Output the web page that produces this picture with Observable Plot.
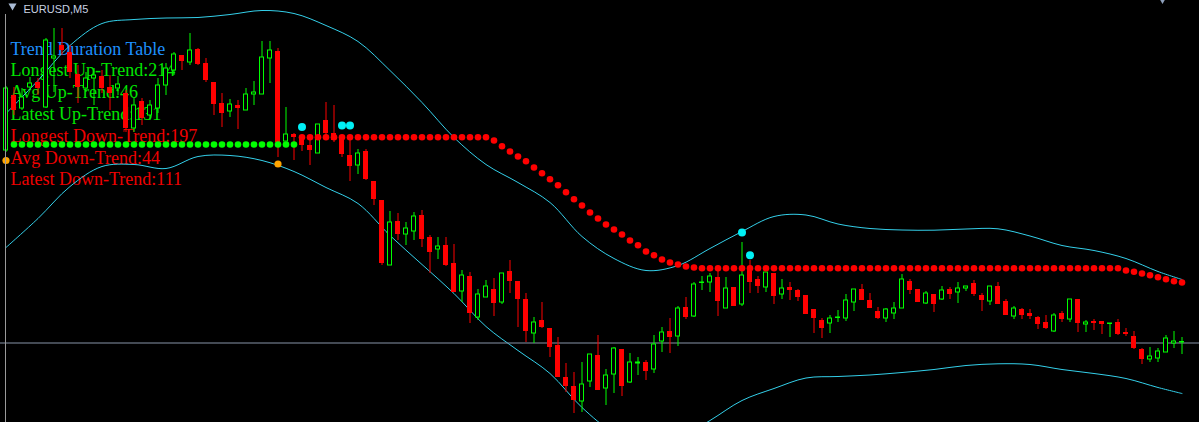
<!DOCTYPE html>
<html>
<head>
<meta charset="utf-8">
<script src="https://cdn.jsdelivr.net/npm/d3@7"></script>
<script src="https://cdn.jsdelivr.net/npm/@observablehq/plot@0.6"></script>
<style>
  html, body { margin: 0; padding: 0; background: #000; overflow: hidden; }
  #wrap { position: relative; width: 1199px; height: 422px; }
  #edge { position: absolute; left: 5px; top: 14px; width: 1px; height: 408px; background: #9a9a9a; }
</style>
</head>
<body>
<div id="wrap"><div id="chart"></div><div id="edge"></div></div>
<script>
// Levels are in points below the window's top reference price (axis reversed).
// Candles: index 0..147 (M5 bars)
const candleOpen = [
  150,95,108,87,82,107,58,45,52,74,
  88,78,76,87,88,93,128,101,115,108,
  85,70,55,62,49,63,82,103,111,105,
  110,94,94,58,51,141,134,137,145,153,
  120,133,137,155,165,151,181,200,265,221,
  234,231,215,237,249,245,263,291,276,317,
  297,289,302,271,281,299,333,320,328,345,
  377,386,401,381,355,388,374,349,382,363,
  362,369,341,331,336,307,316,282.5,282,277,
  308,287,304,269,279,287,273,294,287,290,
  295,309,320,323,317.5,318,302,289,300,311,
  318,313,308,281,289,303,294,299,289,292,
  288,283,295,301,286,301,316,309,313,317,
  322,331,313,319,299,324,321,321,323.5,322,
  332,336,349,359,358,352,343,342
];
const candleHigh = [
  86,87,88,77,78,38,28,28,45,65,
  72,68,70,75,76,90,98,98,100,78,
  63,52,55,33,48,58,82,93,99,100,
  88,81,41,41,48,107,133,136,140,124,
  102,105,137,139,149,149,181,200,211,213,
  222,212,210,235,237,237,244,270,272,289,
  280,278,273,260,281,293,317,302,328,337,
  363,372,362,354,335,369,347,349,353,357,
  360,335,327,318,306,297,282,276,273,270,
  277,287,242,260,276,272,273,279,282,289,
  295,309,318,315,310,294,289,284,293,307,
  308,302,274,279,289,291,294,286,287,282,
  286,280,293,286,282,299,306,308,309,316,
  315,313,311,299,299,320,319,321,323,319,
  328,331,348,347,348,335,331,337
];
const candleLow = [
  152,115,110,90,95,108,92,55,78,103,
  92,105,93,110,95,132,132,125,120,113,
  95,75,70,65,65,82,115,127,117,129,
  110,105,94,83,157,141,160,151,165,153,
  140,142,157,181,174,180,205,265,265,240,
  245,240,247,273,259,266,292,302,323,320,
  297,316,304,293,327,342,343,328,357,377,
  392,413,412,387,390,405,393,396,383,375,
  380,373,352,353,346,319,317,290,292,316,
  308,306,306,293,293,292,304,299,300,301,
  314,333,338,333,322,321,311,300,308,319,
  322,319,308,294,302,304,312,300,299,303,
  291,296,311,305,304,315,319,319,319,329,
  329,332,322,322,332,332,330,334,337,335,
  336,349,364,362,362,352,348,354
];
const candleClose = [
  88,110,97,83,88,40,56,50,72,87,
  78,75,88,93,84,128,105,118,105,85,
  68,54,61,50,64,80,104,113,104,108,
  94,92,57,50,142,134,137,145,150,124,
  133,140,154,166,153,179,199,263,222,234,
  228,216,239,252,246,265,292,275,313,294,
  286,303,273,281,299,331,322,327,347,377,
  386,400,384,354,390,375,348,386,362,362,
  371,344,332,337,308,317,284,282,276,301,
  288,306,275,282,286,272,296,288,290,297,
  314,318,328,318,317,300,289,300,308,318,
  309,308,279,290,302,293,304,290,294,288,
  286,294,300,286,304,315,308,315,316,324,
  328,315,319,299,323,322,323,324,323,334,
  334,348,359,356,351,338,341,341.5
];

// Bollinger-style envelope, read every 4 bars
const bandIndex = [0,4,8,12,16,20,24,28,32,36,40,44,48,52,56,60,64,68,72,76,
                   80,84,88,92,96,100,104,108,112,116,120,124,128,132,136,140,144,147];
const upperBand = [113,80,45,23,19,17.5,17,14,10,13,25,41,70,102,137,164,182,202,236,258,
                   270,265,248,231,216,214.5,223.5,228,229.5,229.7,228.5,228.3,235.5,245,250,258,271,279];
const lowerBand = [247,218,186,166,164,168,156,155,160,171,187,203,235,264,293,326,350,373,407,432,
                   442,438,420,400,388,377.5,376,374.5,372,369,365,363.3,364,369,373,378,387,393];

// Trend-line dots
const upTrendStart = 1;
const upTrendDots = [
  144,144,144,144,144,144,144,144,144,144,144,144,144,144,144,144,144,144,
  144,144,144,144,144,144,144,144,144,144,144,144,144,144,144,144,144,144
];
const downTrendStart = 37;
const downTrendDots = [
  136.7,136.7,136.7,136.7,136.7,136.7,136.7,136.7,136.7,136.7,136.7,136.7,
  136.7,136.7,136.7,136.7,136.7,136.7,136.7,136.7,136.7,136.7,136.7,136.7,
  140,145.7,151,156,160.7,167,172.7,178.7,184.7,191.7,198.7,205,212,218,224,229,
  234,240,244.7,251,254.7,259,262,264,266,267,
  267.7,267.7,267.7,267.7,267.7,267.7,267.7,267.7,267.7,267.7,267.7,267.7,267.7,
  267.7,267.7,267.7,267.7,267.7,267.7,267.7,267.7,267.7,267.7,267.7,267.7,267.7,
  267.7,267.7,267.7,267.7,267.7,267.7,267.7,267.7,267.7,267.7,267.7,267.7,267.7,
  267.7,267.7,267.7,267.7,267.7,267.7,267.7,267.7,267.7,267.7,267.7,267.7,267.7,267.7,
  270,271.3,273,274.7,276.7,278.7,280.7,282
];

// Signal dots
const signalUpIndex = [37, 42, 43, 92, 93];
const signalUpLevel = [126.5, 125, 125, 232, 254.7];
const signalDownIndex = [0, 34];
const signalDownLevel = [160, 163.5];

const priceLine = 342.5;

// Texts
const symbolLabel = "EURUSD,M5";
const tableLines = [
  "Trend Duration Table",
  "Longest Up-Trend:214",
  "Avg Up-Trend:46",
  "Latest Up-Trend:131",
  "Longest Down-Trend:197",
  "Avg Down-Trend:44",
  "Latest Down-Trend:111"
];
const tableColors = ["#1e90ff", "#00e600", "#00e600", "#00e600", "#f00000", "#f00000", "#f00000"];

// ---- build
const candles = candleOpen.map((o, i) => ({
  k: i, o, h: candleHigh[i], l: candleLow[i], c: candleClose[i], up: candleClose[i] < o
}));
const bulls = candles.filter(d => d.up);
const bears = candles.filter(d => !d.up);
const bullsHollow = bulls.filter(d => Math.abs(d.o - d.c) > 1);
const upper = bandIndex.map((k, i) => ({k, v: upperBand[i]}));
const lower = bandIndex.map((k, i) => ({k, v: lowerBand[i]}));
const upDots = upTrendDots.map((v, i) => ({k: upTrendStart + i, v}));
const downDots = downTrendDots.map((v, i) => ({k: downTrendStart + i, v}));
const sigUp = signalUpIndex.map((k, i) => ({k, v: signalUpLevel[i]}));
const sigDown = signalDownIndex.map((k, i) => ({k, v: signalDownLevel[i]}));

const GREEN = "#00ff00", RED = "#ff0000", BAND = "#34d0ea";

const tableMarks = tableLines.map((t, i) => Plot.text([t], {
  frameAnchor: "top-left", text: d => d, dx: 10, dy: 54 + i * 21.8,
  lineAnchor: "bottom", textAnchor: "start", fill: tableColors[i],
  fontSize: 18, fontFamily: "Liberation Serif, 'Times New Roman', serif"
}));

const chart = Plot.plot({
  width: 1199, height: 422,
  marginTop: 0, marginRight: 0, marginBottom: 0, marginLeft: 0,
  style: {background: "#000", color: "#fff"},
  x: {type: "linear", domain: [-0.6875, 149.1875], axis: null},
  y: {type: "linear", domain: [422, 0], axis: null},
  marks: [
    ...tableMarks,
    Plot.text([symbolLabel], {frameAnchor: "top-left", text: d => d, dx: 23, dy: 12, lineAnchor: "bottom",
      textAnchor: "start", fill: "#c8d2e2", fontSize: 11, fontFamily: "Liberation Sans, Arial, sans-serif"}),
    Plot.dot([symbolLabel], {frameAnchor: "top-left", dx: 12, dy: 5.3, symbol: "triangle", rotate: 180,
      r: 3, fill: "#a9bbd4"}),
    Plot.dot([symbolLabel], {frameAnchor: "top-right", dx: -37, dy: -1.2, symbol: "triangle", rotate: 180,
      r: 3, fill: "#8ea0bb"}),
    Plot.line(upper, {x: "k", y: "v", stroke: BAND, strokeWidth: 1, curve: "catmull-rom", clip: true}),
    Plot.line(lower, {x: "k", y: "v", stroke: BAND, strokeWidth: 1, curve: "catmull-rom", clip: true}),
    Plot.ruleY([priceLine], {stroke: "#8794a8", strokeWidth: 1}),
    Plot.ruleX(bears, {x: "k", y1: "h", y2: "l", stroke: RED, strokeWidth: 1}),
    Plot.ruleX(bulls, {x: "k", y1: "h", y2: "l", stroke: GREEN, strokeWidth: 1}),
    Plot.rect(bears, {x1: d => d.k - 0.3125, x2: d => d.k + 0.3125, y1: "o", y2: "c", fill: RED}),
    Plot.rect(bulls, {x1: d => d.k - 0.3125, x2: d => d.k + 0.3125,
      y1: d => Math.min(d.o, d.c) - 0.5, y2: d => Math.max(d.o, d.c) + 0.5, fill: GREEN}),
    Plot.rect(bullsHollow, {x1: d => d.k - 0.1875, x2: d => d.k + 0.1875,
      y1: d => Math.min(d.o, d.c) + 0.5, y2: d => Math.max(d.o, d.c) - 0.5, fill: "#000"}),
    Plot.dot(upDots, {x: "k", y: "v", r: 3.3, fill: GREEN}),
    Plot.dot(downDots, {x: "k", y: "v", r: 3.3, fill: RED}),
    Plot.dot(sigUp, {x: "k", y: "v", r: 4, fill: "#00f0f5"}),
    Plot.dot(sigDown, {x: "k", y: "v", r: 3.6, fill: "#ffa500"})
  ]
});
document.getElementById("chart").appendChild(chart);
</script>
</body>
</html>
